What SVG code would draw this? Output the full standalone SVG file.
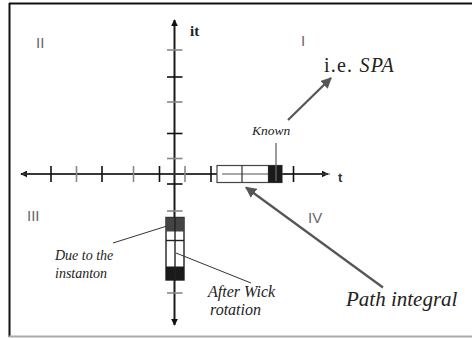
<svg xmlns="http://www.w3.org/2000/svg" width="472" height="338" viewBox="0 0 472 338">
<defs>
<style>
.ax{stroke:#1a1a1a;stroke-width:2;fill:none}
.tk{stroke:#111;stroke-width:1.6}
.tg{stroke:#888;stroke-width:1.6}
.q{font-family:'Liberation Sans',Arial,sans-serif;font-size:15px;fill:#666}
.it{font-family:'Liberation Serif','Times New Roman',serif;font-style:italic;fill:#222}
.gar{stroke:#555;stroke-width:2.2;fill:none}
.thin{stroke:#333;stroke-width:1;fill:none}
</style>
<marker id="ah" viewBox="0 0 10 10" refX="9" refY="5" markerWidth="5" markerHeight="5" orient="auto" markerUnits="strokeWidth">
<path d="M0,0 L10,5 L0,10 Z" fill="#555"/>
</marker>
<marker id="axh" viewBox="0 0 10 10" refX="9" refY="5" markerWidth="3.5" markerHeight="3.5" orient="auto" markerUnits="strokeWidth">
<path d="M0,0 L10,5 L0,10 Z" fill="#111"/>
</marker>
</defs>
<rect x="0" y="0" width="472" height="338" fill="#fff"/>
<line x1="9" y1="3.5" x2="472" y2="3.5" stroke="#111" stroke-width="2"/>
<line x1="9.5" y1="3" x2="9.5" y2="337" stroke="#111" stroke-width="2"/>
<line x1="9" y1="336.5" x2="472" y2="336.5" stroke="#aaa" stroke-width="2"/>

<g id="axes">
<line class="ax" x1="173" y1="174" x2="21" y2="174" marker-end="url(#axh)"/>
<line class="ax" x1="173" y1="174" x2="328" y2="174" marker-end="url(#axh)"/>
<line class="ax" x1="174.5" y1="174" x2="174.5" y2="20" marker-end="url(#axh)"/>
<line class="ax" x1="174.5" y1="174" x2="174.5" y2="325" marker-end="url(#axh)"/>
<line x1="22" y1="174" x2="330" y2="174" stroke="#555" stroke-width="1.2"/>
</g>

<g id="ticks">
<line class="tk" x1="51" y1="166" x2="51" y2="182"/>
<line class="tg" x1="76.5" y1="166" x2="76.5" y2="182"/>
<line class="tk" x1="102" y1="166" x2="102" y2="182"/>
<line class="tg" x1="133.5" y1="166" x2="133.5" y2="182"/>
<line class="tk" x1="159.5" y1="166" x2="159.5" y2="182"/>
<line class="tg" x1="185" y1="166" x2="185" y2="182"/>
<line class="tk" x1="211" y1="166" x2="211" y2="182"/>
<line class="tk" x1="293.5" y1="166" x2="293.5" y2="182"/>
<line class="tg" x1="167" y1="50" x2="182.5" y2="50"/>
<line class="tk" x1="167" y1="77" x2="182.5" y2="77"/>
<line class="tg" x1="167" y1="102" x2="182.5" y2="102"/>
<line class="tk" x1="167" y1="133.5" x2="182.5" y2="133.5"/>
<line class="tg" x1="167" y1="158.5" x2="182.5" y2="158.5"/>
<line class="tk" x1="167" y1="184" x2="182.5" y2="184"/>
<line class="tg" x1="167" y1="211" x2="182.5" y2="211"/>
<line class="tg" x1="167" y1="293" x2="182.5" y2="293"/>
</g>

<g id="hbox">
<rect x="217" y="165.5" width="65" height="17" fill="#fff" stroke="#444" stroke-width="1.2"/>
<line x1="222" y1="174" x2="282" y2="174" stroke="#555" stroke-width="1.2"/>
<line x1="242" y1="165.5" x2="242" y2="182.5" stroke="#333" stroke-width="1.2"/>
<line x1="268.5" y1="165.5" x2="268.5" y2="182.5" stroke="#333" stroke-width="1.2"/>
<rect x="268.5" y="165.5" width="13.5" height="17" fill="#1a1a1a"/>
<line x1="276" y1="143" x2="276" y2="181" stroke="#666" stroke-width="1.3"/>
</g>

<g id="vbox">
<rect x="166" y="217.5" width="18" height="62.5" fill="#fff" stroke="#222" stroke-width="1.4"/>
<rect x="166" y="217.5" width="18" height="14" fill="#444"/>
<rect x="166" y="266.5" width="18" height="13.5" fill="#1a1a1a"/>
<line x1="166" y1="240.5" x2="184" y2="240.5" stroke="#222" stroke-width="1.4"/>
<line x1="175" y1="217" x2="175" y2="281" stroke="#222" stroke-width="1.4"/>
</g>

<g id="connectors">
<line class="thin" x1="113" y1="243" x2="167" y2="226"/>
<line class="thin" x1="176" y1="253" x2="251" y2="283"/>
<line class="gar" x1="383" y1="287.5" x2="246" y2="187.5" marker-end="url(#ah)"/>
<line class="gar" x1="288" y1="120" x2="331" y2="78" marker-end="url(#ah)"/>
</g>

<g id="labels">
<text class="q" x="36" y="48">II</text>
<text class="q" x="301" y="46">I</text>
<text class="q" x="27" y="221">III</text>
<text class="q" x="308" y="223">IV</text>
<text x="190" y="36" font-family="'Liberation Serif','Times New Roman',serif" font-weight="bold" font-size="15" fill="#222">it</text>
<text x="338" y="182" font-family="'Liberation Sans',Arial,sans-serif" font-weight="bold" font-size="13" fill="#333">t</text>
<text x="324" y="72" font-family="'Liberation Serif','Times New Roman',serif" font-size="20" letter-spacing="1.2" fill="#222">i.e. <tspan font-style="italic">SPA</tspan></text>
<text x="252" y="135" font-family="'Liberation Serif','Times New Roman',serif" font-style="italic" font-size="13.5" fill="#222">Known</text>
<text x="55" y="260" font-family="'Liberation Serif','Times New Roman',serif" font-style="italic" font-size="14" fill="#222">Due to the</text>
<text x="55" y="278" font-family="'Liberation Serif','Times New Roman',serif" font-style="italic" font-size="14" fill="#222">instanton</text>
<text x="208" y="297" font-family="'Liberation Serif','Times New Roman',serif" font-style="italic" font-size="16" fill="#222">After Wick</text>
<text x="210" y="315" font-family="'Liberation Serif','Times New Roman',serif" font-style="italic" font-size="16" fill="#222">rotation</text>
<text x="346" y="306" font-family="'Liberation Serif','Times New Roman',serif" font-style="italic" font-size="21" fill="#222">Path integral</text>
</g>
</svg>
